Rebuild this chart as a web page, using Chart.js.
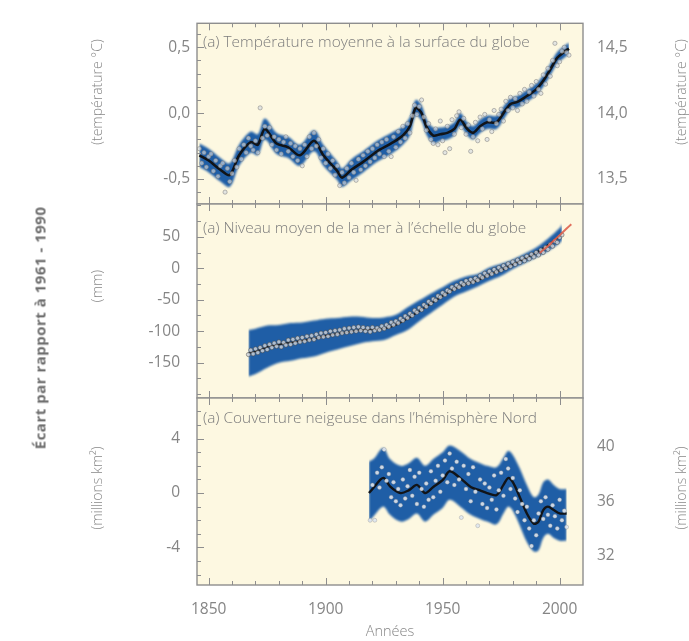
<!DOCTYPE html>
<html lang="fr">
<head>
<meta charset="utf-8">
<title>Température, niveau de la mer et couverture neigeuse</title>
<script src="https://cdn.jsdelivr.net/npm/chart.js@4.4.1/dist/chart.umd.min.js"></script>
<style>
  html, body { margin: 0; padding: 0; background: #ffffff; }
  #fig { position: relative; width: 689px; height: 641px; overflow: hidden; font-family: "Open Sans", "DejaVu Sans", sans-serif; }
  #fig canvas { position: absolute; left: 0; top: 0; }
  .txt { position: absolute; white-space: nowrap; color: #888888; font-size: 14px; font-weight: 300; line-height: 1; }
  .v { transform: translate(-50%, -50%) rotate(-90deg); }
  .h { transform: translateY(-50%); }
  .bold { font-weight: 700; color: #6e6e6e; font-size: 15px; letter-spacing: 0.5px; }
  .ptitle { font-size: 15.4px; color: #7c7c7c; }
</style>
</head>
<body>
<div id="fig">
  <canvas id="c1" width="689" height="641"></canvas>
  <canvas id="c2" width="689" height="641"></canvas>
  <canvas id="c3" width="689" height="641"></canvas>

  <div class="txt v bold" style="left:40px; top:328px;">Écart par rapport à 1961 - 1990</div>

  <div class="txt v" style="left:97px; top:92px;">(température °C)</div>
  <div class="txt v" style="left:97px; top:286px;">(mm)</div>
  <div class="txt v" style="left:97px; top:488px;">(millions km²)</div>

  <div class="txt v" style="left:681px; top:92px;">(température °C)</div>
  <div class="txt v" style="left:681px; top:488px;">(millions km²)</div>

  <div class="txt h ptitle" style="left:203px; top:42px;">(a) Température moyenne à la surface du globe</div>
  <div class="txt h ptitle" style="left:203px; top:228px;">(a) Niveau moyen de la mer à l’échelle du globe</div>
  <div class="txt h ptitle" style="left:203px; top:418px;">(a) Couverture neigeuse dans l’hémisphère Nord</div>
</div>

<script>
// ---------- shared year axis ----------
const yearMin = 1845;
const yearMax = 2010;
const yearLabels = [1850, 1900, 1950, 2000];

// ---------- (1) global mean surface temperature, anomaly in °C ----------
const tempFirstYear = 1846;
const tempAnnual = [
  -0.27, -0.38, -0.30, -0.41,
  -0.33, -0.31, -0.44, -0.36, -0.48, -0.40, -0.38, -0.60, -0.42, -0.52,
  -0.46, -0.36, -0.41, -0.27, -0.35, -0.24, -0.30, -0.19, -0.25, -0.28,
  -0.21, -0.30,  0.04, -0.19, -0.10, -0.17, -0.11, -0.24, -0.18, -0.28,
  -0.20, -0.31, -0.22, -0.18, -0.29, -0.23, -0.33, -0.25, -0.36, -0.27,
  -0.40, -0.24, -0.33, -0.18, -0.27, -0.15, -0.25, -0.20, -0.34, -0.27,
  -0.38, -0.31, -0.42, -0.36, -0.47, -0.40, -0.55, -0.45, -0.53, -0.42,
  -0.49, -0.38, -0.45, -0.51, -0.35, -0.43, -0.32, -0.40, -0.29, -0.37,
  -0.27, -0.34, -0.24, -0.31, -0.22, -0.33, -0.20, -0.29, -0.33, -0.18,
  -0.26, -0.14, -0.22, -0.10, -0.19, -0.08, -0.15, -0.02,  0.06, -0.01,
   0.05,  0.10, -0.03, -0.13, -0.08, -0.20, -0.23, -0.12, -0.24, -0.06,
  -0.21, -0.30, -0.10, -0.27, -0.05, -0.16, -0.02,  0.01, -0.11, -0.04,
  -0.16, -0.09, -0.29, -0.18, -0.07, -0.21, -0.03, -0.12, -0.01, -0.20,
  -0.05, -0.14,  0.02, -0.08, -0.01,  0.03, -0.06,  0.09,  0.02,  0.12,
   0.04,  0.11,  0.02,  0.15,  0.07,  0.18,  0.09,  0.16,  0.21,  0.13,
   0.24,  0.18,  0.15,  0.29,  0.22,  0.34,  0.28,  0.40,  0.53,  0.36,
   0.39,  0.47,  0.50,  0.46,  0.44
];
const tempSmoothYears = [1846, 1850, 1855, 1859, 1863, 1868, 1871, 1874, 1879, 1884, 1889, 1895, 1899, 1905, 1907, 1911, 1916, 1922, 1928, 1933, 1936, 1938.5, 1941, 1943, 1946, 1949, 1952, 1955, 1957.5, 1960.5, 1963, 1966, 1969, 1973, 1976, 1979, 1982, 1986, 1990, 1993, 1996, 1999, 2002, 2004];
const tempSmooth = [-0.32, -0.36, -0.43, -0.47, -0.32, -0.22, -0.24, -0.12, -0.23, -0.26, -0.32, -0.21, -0.32, -0.44, -0.49, -0.43, -0.37, -0.29, -0.23, -0.17, -0.10, 0.04, 0.00, -0.10, -0.17, -0.16, -0.15, -0.12, -0.05, -0.12, -0.15, -0.10, -0.07, -0.07, 0.00, 0.07, 0.085, 0.13, 0.18, 0.245, 0.33, 0.42, 0.465, 0.49];
const tempUpper = [-0.23, -0.27, -0.34, -0.38, -0.24, -0.14, -0.16, -0.04, -0.15, -0.18, -0.24, -0.13, -0.24, -0.37, -0.42, -0.35, -0.29, -0.21, -0.15, -0.10, -0.03, 0.10, 0.06, -0.04, -0.11, -0.11, -0.10, -0.07, 0.00, -0.07, -0.10, -0.05, -0.02, -0.02, 0.05, 0.115, 0.13, 0.175, 0.225, 0.29, 0.375, 0.465, 0.51, 0.535];
const tempLower = [-0.41, -0.45, -0.52, -0.56, -0.40, -0.30, -0.32, -0.20, -0.31, -0.34, -0.40, -0.29, -0.40, -0.51, -0.56, -0.51, -0.45, -0.37, -0.31, -0.24, -0.17, -0.02, -0.06, -0.16, -0.23, -0.21, -0.20, -0.17, -0.10, -0.17, -0.20, -0.15, -0.12, -0.12, -0.05, 0.025, 0.04, 0.085, 0.135, 0.20, 0.285, 0.375, 0.42, 0.445];
const tempTicks = [0.5, 0.0, -0.5];
const tempRightOffset = 14.0;   // absolute temperature = anomaly + 14,0 °C

// ---------- (2) global mean sea level, mm ----------
const seaFirstYear = 1867;
const seaAnnual = [
  -137, -130, -136,
  -128, -134, -126, -131, -123, -129, -121, -126, -119, -124,
  -117, -125, -118, -122, -114, -121, -113, -119, -111, -117,
  -110, -116, -108, -114, -107, -113, -105, -110, -103, -109,
  -102, -108, -100, -106,  -99, -105,  -98, -103,  -96, -102,
   -95, -101,  -94, -100,  -93,  -99,  -94, -100,  -95, -101,
   -94,  -99,  -95,  -98,  -92,  -96,  -90,  -93,  -86,  -90,
   -84,  -87,  -80,  -83,  -76,  -79,  -72,  -75,  -67,  -70,
   -63,  -66,  -58,  -61,  -53,  -56,  -49,  -51,  -44,  -46,
   -39,  -42,  -35,  -37,  -30,  -33,  -27,  -30,  -23,  -26,
   -20,  -24,  -18,  -22,  -16,  -19,  -12,  -15,   -8,  -12,
    -5,   -9,   -2,   -6,    1,   -3,    4,    0,    7,    3,
    10,    6,   13,    9,   16,   12,   19,   15,   22,   18,
    25,   21,   29,   25,   33,   30,   38,   35,   43,   41,
    49,   53
];
const seaSmoothYears = [1867, 1870, 1875, 1880, 1885, 1890, 1895, 1900, 1905, 1910, 1915, 1920, 1925, 1930, 1935, 1940, 1945, 1950, 1955, 1960, 1965, 1970, 1975, 1980, 1985, 1990, 1995, 2000, 2001];
const seaSmooth = [-135, -132, -125, -121, -118, -115, -112, -107, -104, -101, -98, -97, -96, -90, -80, -68, -56, -44, -33, -25, -19, -10, -3, 6, 15, 25, 37, 51, 56];
const seaUpper = [-98, -96, -91, -90, -87, -86, -83, -80, -79, -77, -77, -79, -78, -74, -62, -51, -40, -30, -20, -13, -9, 1, 7, 14, 23, 33, 47, 64, 70];
const seaLower = [-172, -168, -158, -150, -147, -143, -140, -134, -129, -124, -119, -116, -114, -106, -98, -84, -71, -58, -45, -37, -29, -20, -12, -1, 8, 17, 27, 40, 44];
const seaSatYears = [1991.5, 1993, 1995, 1997, 1999, 2001, 2003, 2005];
const seaSat = [24, 29, 35, 42, 49, 56, 63, 70];
const seaTicks = [50, 0, -50, -100, -150];

// ---------- (3) Northern Hemisphere snow cover, millions km² ----------
const snowFirstYear = 1919;
const snowAnnual = [
  -2.0,
   0.6, -2.0,  1.5,  0.4,  1.9,  3.2,  0.9,  1.4, -0.3,  0.8,
  -0.6,  0.3, -0.9,  1.0, -0.4,  0.5,  1.7, -0.2,  1.2, -0.8,
   1.5,  0.3, -1.0,  0.7, -0.5,  1.6, -0.3,  0.9,  2.0,  0.1,
   1.3,  2.4,  0.8,  2.9,  1.8,  0.6,  2.3,  1.0, -1.8,  2.0,
   0.3,  1.4, -0.6,  1.9,  0.1, -2.4,  1.0, -0.8,  0.7, -1.1,
   0.4, -0.5,  1.3, -1.2,  0.2,  1.5, -0.2,  2.5,  1.8,  0.3,
   1.1, -0.4, -1.4,  0.2, -0.8, -2.0, -1.0, -2.6, -3.9, -2.0,
  -3.1, -1.5, -0.6, -1.9, -0.3, -1.6, -2.4, -0.9, -1.7, -2.6,
  -0.5, -2.0, -1.3, -2.5
];
const snowSmoothYears = [1918.5, 1921, 1923.5, 1925, 1927.5, 1932, 1935.5, 1939, 1942.5, 1946, 1950, 1953, 1957.5, 1962, 1966, 1969, 1973, 1976, 1978, 1980, 1983, 1986, 1989, 1991, 1993, 1995, 1997.5, 2000, 2003];
const snowSmooth = [0.0, 0.5, 1.0, 1.1, 0.5, 0.0, 0.2, 0.6, 0.0, 0.45, 0.95, 1.6, 1.1, 0.45, 0.2, 0.0, -0.15, 0.6, 1.1, 0.8, -0.3, -1.5, -2.25, -2.1, -1.25, -1.0, -1.25, -1.5, -1.5];
const snowUpper = [2.3, 2.6, 3.2, 3.3, 2.5, 2.0, 2.2, 2.6, 2.0, 2.5, 3.0, 3.5, 3.1, 2.5, 2.2, 2.0, 1.9, 2.6, 3.1, 2.8, 1.8, 0.6, -0.3, -0.1, 0.8, 1.0, 0.6, 0.3, 0.3];
const snowLower = [-2.1, -1.6, -1.1, -1.0, -1.6, -2.1, -1.9, -1.5, -2.1, -1.6, -1.1, -0.5, -1.0, -1.6, -1.9, -2.1, -2.3, -1.5, -1.0, -1.3, -2.4, -3.6, -4.3, -4.2, -3.3, -3.0, -3.3, -3.5, -3.5];
const snowTicks = [4, 0, -4];
const snowRightTicks = [40, 36, 32];

// ---------- page geometry and styling ----------
const W = 689, H = 641;
const plotLeft = 197, plotRight = 583;
const xAxisHeight = 56;
const fontFam = '"Open Sans", "DejaVu Sans", sans-serif';
const labelGray = '#858585';
const frameGray = '#8e8e8e';
const paper = '#fdf8e1';
const bandBlue = '#1f5ea6';

const pts = (xs, ys) => ys.map((y, i) => ({ x: xs[i], y }));
const annualPts = (first, ys) => ys.map((y, i) => ({ x: first + i, y }));
const comma = (v, d) => v.toFixed(d).replace('.', ',');
const range = (a, b, step) => { const out = []; for (let v = a; v <= b + 1e-9; v += step) out.push(+v.toFixed(6)); return out; };

// Paper background, frame and inward tick marks of each panel
const framePlugin = {
  id: 'frame',
  beforeDatasetsDraw(chart) {
    const { ctx, chartArea: a } = chart;
    ctx.save();
    ctx.fillStyle = paper;
    ctx.fillRect(a.left, a.top, a.right - a.left, a.bottom - a.top);
    ctx.restore();
  },
  afterDatasetsDraw(chart, args, o) {
    const { ctx, chartArea: a } = chart;
    const xs = chart.scales.x, ys = chart.scales.y;
    ctx.save();
    ctx.strokeStyle = frameGray;
    ctx.lineWidth = 1;
    ctx.beginPath();
    // year ticks along the top and bottom edges
    for (let yr = 1850; yr <= 2000; yr += 10) {
      const px = Math.round(xs.getPixelForValue(yr)) + 0.5;
      const len = yearLabels.includes(yr) ? 7 : 4;
      ctx.moveTo(px, a.top); ctx.lineTo(px, a.top + len);
      ctx.moveTo(px, a.bottom); ctx.lineTo(px, a.bottom - len);
    }
    // value ticks along the left edge
    for (const v of o.minor) {
      if (v < ys.min || v > ys.max) continue;
      const py = Math.round(ys.getPixelForValue(v)) + 0.5;
      const len = o.major.some(m => Math.abs(m - v) < 1e-6) ? 7 : 4;
      ctx.moveTo(a.left, py); ctx.lineTo(a.left + len, py);
    }
    ctx.stroke();
    ctx.lineWidth = 1.4;
    ctx.strokeRect(a.left, a.top, a.right - a.left, a.bottom - a.top);
    ctx.restore();
  }
};

// Soft edge on the uncertainty band
const softBand = {
  id: 'softBand',
  beforeDatasetsDraw(chart) { chart.ctx.filter = 'blur(0.9px)'; },
  afterDatasetDraw(chart, args) { if (args.index === 0) chart.ctx.filter = 'none'; }
};

function tickFont() { return { family: fontFam, size: 15.5, weight: 400 }; }

function makePanel(canvasId, p) {
  const scales = {
    x: {
      type: 'linear', min: yearMin, max: yearMax,
      display: p.showX,
      grid: { display: false, drawTicks: false },
      border: { display: false },
      afterBuildTicks: s => { s.ticks = yearLabels.map(v => ({ value: v })); },
      ticks: { color: labelGray, font: tickFont(), padding: 15, maxRotation: 0, autoSkip: false, callback: v => String(v) },
      title: { display: p.showX, text: 'Années', color: labelGray, font: { family: fontFam, size: 14.5, weight: 300 }, padding: { top: 3, bottom: 0 } },
      afterFit: s => { s.height = p.showX ? xAxisHeight : 0; }
    },
    y: {
      type: 'linear', position: 'left', min: p.yMin, max: p.yMax,
      grid: { display: false, drawTicks: false },
      border: { display: false },
      afterBuildTicks: s => { s.ticks = p.yTicks.map(v => ({ value: v })); },
      ticks: { color: labelGray, font: tickFont(), padding: p.labelPad, autoSkip: false, callback: p.fmt },
      afterFit: s => { s.width = plotLeft; }
    }
  };
  if (p.right) {
    scales.y2 = {
      type: 'linear', position: 'right', min: p.right.min, max: p.right.max,
      grid: { display: false, drawTicks: false },
      border: { display: false },
      afterBuildTicks: s => { s.ticks = p.right.ticks.map(v => ({ value: v })); },
      ticks: { color: labelGray, font: tickFont(), padding: 14, autoSkip: false, callback: p.right.fmt },
      afterFit: s => { s.width = W - plotRight; }
    };
  }
  return new Chart(document.getElementById(canvasId), {
    type: 'line',
    data: { datasets: p.datasets },
    options: {
      responsive: false,
      animation: false,
      events: [],
      layout: { padding: { top: p.top, bottom: p.showX ? 0 : H - p.bottom, left: 0, right: p.right ? 0 : W - plotRight } },
      scales,
      plugins: {
        legend: { display: false },
        tooltip: { enabled: false },
        filler: { drawTime: 'beforeDatasetDraw' },
        frame: { minor: p.minorTicks, major: p.yTicks }
      }
    },
    plugins: [framePlugin, softBand]
  });
}

function bandSets(xs, up, lo) {
  return [
    { data: pts(xs, up), borderWidth: 0, pointRadius: 0, tension: 0.35, fill: '+1', backgroundColor: bandBlue, order: 8 },
    { data: pts(xs, lo), borderWidth: 0, pointRadius: 0, tension: 0.35, fill: false, order: 9 }
  ];
}

// (1) temperature
makePanel('c1', {
  top: 17, bottom: 204, showX: false,
  yMin: -0.69, yMax: 0.682, yTicks: tempTicks, labelPad: 7,
  fmt: v => comma(v, 1),
  minorTicks: range(-0.6, 0.6, 0.1),
  right: { min: -0.69 + tempRightOffset, max: 0.682 + tempRightOffset, ticks: tempTicks.map(v => v + tempRightOffset), fmt: v => comma(v, 1) },
  datasets: [
    ...bandSets(tempSmoothYears, tempUpper, tempLower),
    { data: pts(tempSmoothYears, tempSmooth), borderColor: '#111418', borderWidth: 2.6, pointRadius: 0, tension: 0.3, fill: false, order: 2 },
    { data: annualPts(tempFirstYear, tempAnnual), showLine: false, pointRadius: 2.1, pointBorderWidth: 0.8,
      pointBackgroundColor: 'rgba(214,218,224,0.65)', pointBorderColor: 'rgba(125,125,125,0.65)', order: 1 }
  ]
});

// (2) sea level
makePanel('c2', {
  top: 204, bottom: 398, showX: false,
  yMin: -206, yMax: 102, yTicks: seaTicks, labelPad: 17,
  fmt: v => String(v),
  minorTicks: range(-200, 100, 25),
  right: null,
  datasets: [
    ...bandSets(seaSmoothYears, seaUpper, seaLower),
    { data: pts(seaSmoothYears, seaSmooth), borderColor: '#15181e', borderWidth: 1.6, pointRadius: 0, tension: 0.3, fill: false, order: 3 },
    { data: pts(seaSatYears, seaSat), borderColor: 'rgba(222,96,78,0.9)', borderWidth: 2, pointRadius: 0, tension: 0.3, fill: false, order: 0 },
    { data: annualPts(seaFirstYear, seaAnnual), showLine: false, pointRadius: 2.1, pointBorderWidth: 0.8,
      pointBackgroundColor: 'rgba(210,214,220,0.8)', pointBorderColor: 'rgba(70,70,70,0.65)', order: 1 }
  ]
});

// (3) snow cover
makePanel('c3', {
  top: 398, bottom: 585, showX: true,
  yMin: -6.76, yMax: 6.99, yTicks: snowTicks, labelPad: 17,
  fmt: v => String(v),
  minorTicks: range(-6, 6, 1),
  right: { min: 29.88, max: 43.54, ticks: snowRightTicks, fmt: v => String(v) },
  datasets: [
    ...bandSets(snowSmoothYears, snowUpper, snowLower),
    { data: pts(snowSmoothYears, snowSmooth), borderColor: '#111418', borderWidth: 2.4, pointRadius: 0, tension: 0.3, fill: false, order: 2 },
    { data: annualPts(snowFirstYear, snowAnnual), showLine: false, pointRadius: 2, pointBorderWidth: 0.6,
      pointBackgroundColor: 'rgba(222,230,240,0.9)', pointBorderColor: 'rgba(140,140,140,0.6)', order: 1 }
  ]
});
</script>
</body>
</html>
